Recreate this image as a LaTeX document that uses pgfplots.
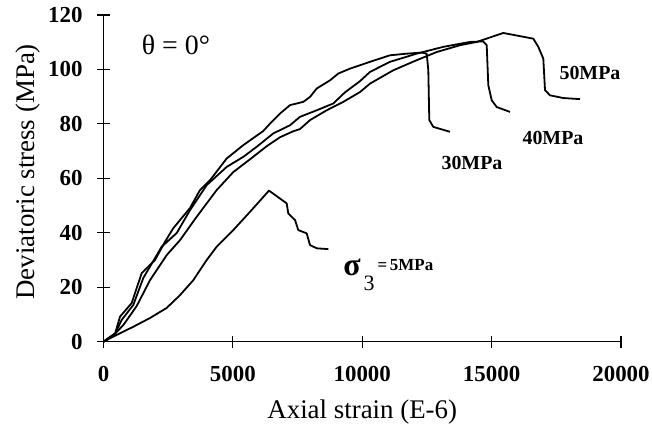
\documentclass[border=0pt]{standalone}
\usepackage{fontspec}
\setmainfont{Liberation Serif}
\usepackage{pgfplots}
\pgfplotsset{compat=1.18}

\pgfplotsset{curve/.style={black, no markers, line width=0.9pt, line join=round}}

\begin{document}
\begin{tikzpicture}
\begin{axis}[
  name=ax,
  scale only axis,
  width=258.75bp, height=163.35bp,
  xmin=0, xmax=20000, ymin=0, ymax=120,
  axis x line=bottom, axis y line=left,
  axis line style={-, line width=0.6pt},
  xtick={0,5000,...,20000}, ytick={0,20,...,120},
  tick align=center, major tick length=6bp,
  tick style={line width=0.6pt, black},
  scaled x ticks=false,
  /pgf/number format/assume math mode=true,
  /pgf/number format/1000 sep={},
  ticklabel style={font=\fontsize{11.5}{13}\selectfont\bfseries},
  xticklabel style={yshift=-6bp},
  yticklabel style={xshift=-4bp},
  xlabel={Axial strain (E-6)},
  ylabel={Deviatoric stress (MPa)},
  label style={font=\fontsize{13.5}{15}\selectfont},
  xlabel style={at={(axis description cs:0.5,-0.214)}, anchor=center},
  ylabel style={at={(axis description cs:-0.145,0.52)}, anchor=center},
  clip=false,
]

% sigma_3 = 5 MPa
\addplot[curve] coordinates {
  (0,0) (510,2.5) (1154,5.5) (1797,8.7) (2442,12.4) (2957,17.1) (3471,22.6)
  (3988,30.0) (4375,34.9) (5016,41.0) (5662,47.7) (6048,51.8) (6396,55.5)
  (7080,50.8) (7142,47.1) (7401,44.7) (7528,41.0) (7853,39.8) (7981,35.5)
  (8240,34.3) (8688,34.0)
};

% sigma_3 = 30 MPa
\addplot[curve] coordinates {
  (0,0) (450,3.0) (638,9.2) (1090,14.2) (1476,25.2) (1990,30.0) (2377,36.7)
  (2698,41.7) (3343,49.1) (3729,55.7) (4116,59.3) (4761,67.3) (5403,72.2)
  (6176,77.4) (6435,80.1) (6821,83.8) (7208,86.9) (7722,88.1) (7981,89.9)
  (8240,93.0) (8754,96.0) (9074,98.5) (9527,100.3) (10300,102.8)
  (11072,105.2) (11718,105.8) (12298,106.2) (12491,105.8) (12553,99.7)
  (12591,81.4) (12746,78.9) (13391,77.1)
};

% sigma_3 = 40 MPa
\addplot[curve] coordinates {
  (0,0) (450,3.0) (703,8.0) (1152,13.5) (1538,23.4) (2249,34.9) (2829,39.9)
  (3343,48.3) (3988,57.5) (4761,64.2) (5403,67.9) (5921,71.6) (6562,76.5)
  (7208,79.5) (7594,82.6) (8240,85.0) (8881,87.5) (9333,91.6) (9913,95.7)
  (10300,99.1) (11072,102.8) (12104,105.8) (13132,108.3) (14164,110.1)
  (14667,110.3) (14810,108.9) (14872,94.2) (15003,88.7) (15196,86.2)
  (15710,84.4)
};

% sigma_3 = 50 MPa
\addplot[curve] coordinates {
  (0,0) (450,3.0) (765,6.1) (1283,13.1) (1797,22.6) (2442,31.8) (2957,37.3)
  (3602,45.9) (4375,55.7) (5016,62.3) (5662,67.0) (6307,71.8) (6821,75.1)
  (7335,77.3) (7594,78.1) (7981,81.4) (8626,85.0) (9268,88.1) (9913,91.7)
  (10300,94.8) (11200,99.7) (12104,103.4) (12877,106.4) (13778,108.9)
  (14423,110.1) (15451,113.4) (16611,111.3) (16804,108.3) (16997,104.0)
  (17063,92.4) (17256,90.5) (17770,89.5) (18415,89.1)
};

\node[font=\fontsize{14}{16}\selectfont] at (axis cs:2802,108.9) {θ = 0°};
\node[font=\fontsize{10}{12}\selectfont\bfseries] at (axis cs:14241,65.6) {30MPa};
\node[font=\fontsize{10}{12}\selectfont\bfseries] at (axis cs:17372,74.8) {40MPa};
\node[font=\fontsize{10}{12}\selectfont\bfseries] at (axis cs:18802,98.6) {50MPa};
\node[anchor=base west, inner sep=0pt] at (axis cs:9256,24.5)
  {\fontsize{16}{17}\selectfont\bfseries σ\hspace{1.5bp}\raisebox{-7.5bp}{\fontsize{11}{12}\selectfont\mdseries 3}\raisebox{2.5bp}{\fontsize{8.5}{10}\selectfont\bfseries\,=\,5MPa}};
\end{axis}
\pgfresetboundingbox
\path ([shift={(-51.75bp,-42.65bp)}]ax.south west) rectangle ([shift={(15.5bp,7.5bp)}]ax.north east);
\end{tikzpicture}
\end{document}
